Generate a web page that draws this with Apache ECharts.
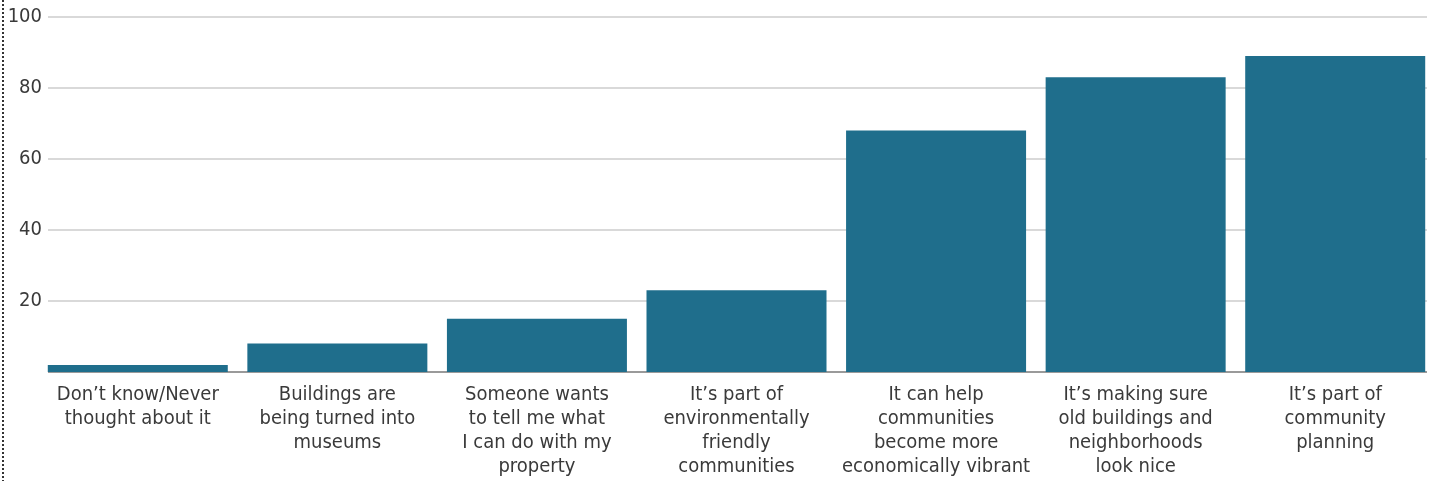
<!DOCTYPE html>
<html>
<head>
<meta charset="utf-8">
<script src="https://cdn.jsdelivr.net/npm/echarts@6/dist/echarts.min.js"></script>
<style>
  html, body { margin: 0; padding: 0; background: #fff; }
  #chart { width: 1435px; height: 481px; }
</style>
</head>
<body>
<div id="chart"></div>
<script>
// categories and values
const categories = [
  "Don’t know/Never\nthought about it",
  "Buildings are\nbeing turned into\nmuseums",
  "Someone wants\nto tell me what\nI can do with my\nproperty",
  "It’s part of\nenvironmentally\nfriendly\ncommunities",
  "It can help\ncommunities\nbecome more\neconomically vibrant",
  "It’s making sure\nold buildings and\nneighborhoods\nlook nice",
  "It’s part of\ncommunity\nplanning"
];
const values = [2, 8, 15, 23, 68, 83, 89];
const yTicks = [0, 20, 40, 60, 80, 100];

const font = "'DejaVu Sans Condensed', 'DejaVu Sans', sans-serif";
const chart = echarts.init(document.getElementById("chart"));

const option = {
  animation: false,
  // grid 0 carries the gridlines/labels, grid 1 the bars (bars sit a bit left of the line grid)
  grid: [
    { left: 48, right: 8, top: 17, bottom: 109 },
    { left: 38, width: 1400, top: 17, bottom: 109 }
  ],
  xAxis: [
    { gridIndex: 0, type: "category", data: categories, show: false },
    {
      gridIndex: 1,
      type: "category",
      data: categories,
      axisLine: { show: false },
      axisTick: { show: false },
      axisLabel: {
        interval: 0,
        margin: 11,
        fontFamily: font,
        fontSize: 20,
        lineHeight: 24,
        color: "#3a3a3a"
      }
    }
  ],
  yAxis: [
    {
      gridIndex: 0,
      type: "value",
      min: yTicks[0],
      max: yTicks[yTicks.length - 1],
      interval: 20,
      axisLine: { show: false },
      axisTick: { show: false },
      axisLabel: {
        margin: 6,
        padding: [4, 0, 0, 0],
        fontFamily: font,
        fontSize: 20,
        color: "#3a3a3a",
        formatter: v => (v === 0 ? "" : String(v))
      },
      splitLine: { lineStyle: { color: "#d9d9d9", width: 2 } }
    },
    {
      gridIndex: 1,
      type: "value",
      min: 0,
      max: 100,
      show: false,
      splitLine: { show: false }
    }
  ],
  series: [
    {
      type: "bar",
      xAxisIndex: 1,
      yAxisIndex: 1,
      data: values,
      barWidth: 180,
      itemStyle: { color: "#1f6e8c" },
      z: 3
    }
  ],
  graphic: [
    {
      type: "line",
      shape: { x1: 48, y1: 372, x2: 1427, y2: 372 },
      style: { stroke: "#9a9a9a", lineWidth: 2 },
      z: 1
    },
    {
      type: "line",
      shape: { x1: 3, y1: 0, x2: 3, y2: 481 },
      style: { stroke: "#333", lineWidth: 2, lineDash: [2, 2] }
    }
  ]
};

chart.setOption(option);
</script>
</body>
</html>
